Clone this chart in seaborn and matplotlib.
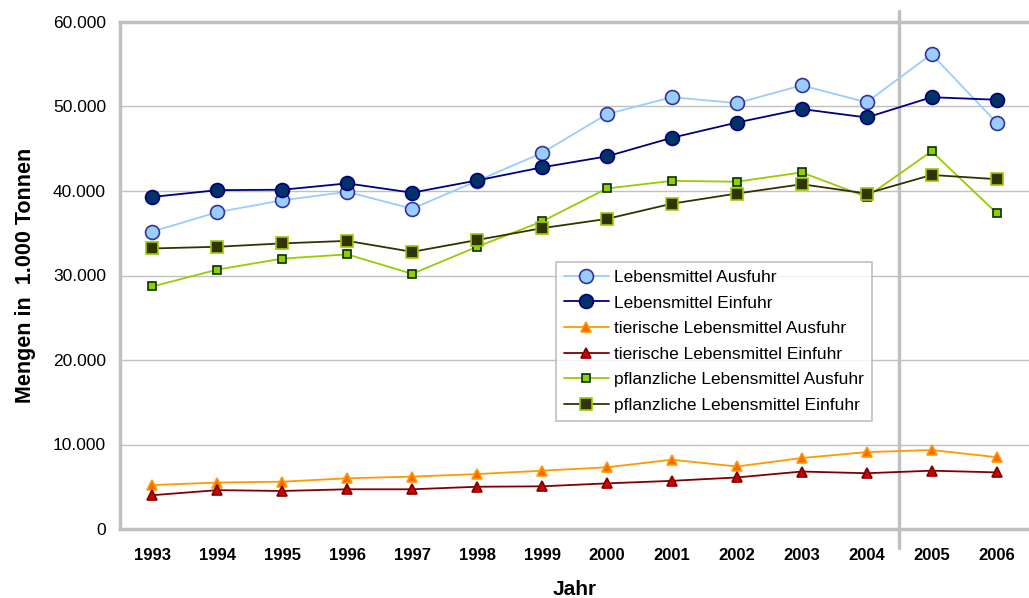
import matplotlib
matplotlib.use("Agg")
import matplotlib.pyplot as plt
import matplotlib.ticker as mticker
import seaborn as sns

# Jahre und Werte (in 1.000 Tonnen)
jahre = [1993, 1994, 1995, 1996, 1997, 1998, 1999, 2000, 2001, 2002, 2003, 2004, 2005, 2006]
lm_aus = [35200, 37500, 38900, 39900, 37900, 41200, 44500, 49100, 51100, 50400, 52500, 50500, 56200, 48100]
lm_ein = [39300, 40100, 40150, 40900, 39800, 41250, 42800, 44100, 46300, 48100, 49700, 48700, 51100, 50800]
tier_aus = [5200, 5500, 5600, 6000, 6200, 6500, 6900, 7300, 8200, 7400, 8400, 9100, 9350, 8500]
tier_ein = [4000, 4600, 4500, 4700, 4700, 5000, 5050, 5400, 5700, 6100, 6800, 6600, 6900, 6700]
pfl_aus = [28700, 30700, 32000, 32500, 30200, 33400, 36400, 40300, 41200, 41100, 42200, 39300, 44700, 37400]
pfl_ein = [33200, 33400, 33800, 34100, 32800, 34200, 35600, 36700, 38500, 39700, 40800, 39700, 41900, 41400]

sns.set_style("white")
plt.rcParams['font.family'] = ['Liberation Sans', 'DejaVu Sans']
plt.rcParams['text.color'] = 'black'
plt.rcParams['axes.labelcolor'] = 'black'
plt.rcParams['xtick.color'] = 'black'
plt.rcParams['ytick.color'] = 'black'

fig = plt.figure(figsize=(10.29, 5.98), dpi=100)
ax = fig.add_axes([120 / 1029, 1 - 529 / 598, 1 - 120 / 1029, 507 / 598])

pos = list(range(len(jahre)))

serien = [
    (lm_aus, "Lebensmittel Ausfuhr", "#99ccff", "o", "#99ccff", "#333399", 10),
    (lm_ein, "Lebensmittel Einfuhr", "#000080", "o", "#003366", "#000080", 10),
    (tier_aus, "tierische Lebensmittel Ausfuhr", "#ff9900", "^", "#ff6600", "#ff9900", 7),
    (tier_ein, "tierische Lebensmittel Einfuhr", "#800000", "^", "#cc0000", "#800000", 7),
    (pfl_aus, "pflanzliche Lebensmittel Ausfuhr", "#99cc00", "s", "#99cc00", "#003300", 6),
    (pfl_ein, "pflanzliche Lebensmittel Einfuhr", "#333300", "s", "#333300", "#99cc00", 9),
]

for werte, name, lc, mk, fc, ec, ms in serien:
    sns.lineplot(x=pos, y=werte, ax=ax, label=name, color=lc, linewidth=1.3,
                 marker=mk, markersize=ms, markerfacecolor=fc,
                 markeredgecolor=ec, markeredgewidth=1.2, clip_on=False, zorder=3)

ax.set_xlim(-0.5, 13.35)
ax.set_ylim(0, 60000)
ax.set_yticks(range(0, 60001, 10000))
ax.yaxis.set_major_formatter(mticker.FuncFormatter(lambda v, p: f"{int(v):,}".replace(",", ".")))
ax.set_xticks(pos)
ax.set_xticklabels([str(j) for j in jahre], fontweight="bold", fontsize=12)
ax.set_xticks([p - 0.5 for p in pos] + [13.5], minor=True)
ax.tick_params(axis="x", which="major", length=0, pad=14)
ax.tick_params(axis="x", which="minor", length=6, color="#b0b0b0", width=1)
ax.tick_params(axis="y", length=6, color="#b0b0b0", width=1, labelsize=12.5, pad=4)

ax.grid(axis="y", color="#c0c0c0", linewidth=1)
ax.set_axisbelow(True)
for s in ["left", "bottom", "top"]:
    ax.spines[s].set_color("#c0c0c0")
    ax.spines[s].set_linewidth(2.5)
ax.spines["right"].set_visible(False)

ax.axvline(11.5, ymin=-0.038, ymax=1.022, color="#c0c0c0", linewidth=2.5, clip_on=False, zorder=2)

ax.set_xlabel("Jahr", fontweight="bold", fontsize=15, labelpad=12)
ax.set_ylabel("Mengen in  1.000 Tonnen", fontweight="bold", fontsize=15.5, labelpad=12)

leg = ax.legend(loc="upper left", bbox_to_anchor=((556 - 120) / 909, 1 - (262 - 22) / 507),
                fontsize=12.5, frameon=True, fancybox=False, borderpad=0.45,
                labelspacing=0.6, handlelength=2.6, handletextpad=0.3, borderaxespad=0)
leg.get_frame().set_edgecolor("#b0b0b0")
leg.get_frame().set_linewidth(1.2)

fig.savefig("out.png", dpi=100)
